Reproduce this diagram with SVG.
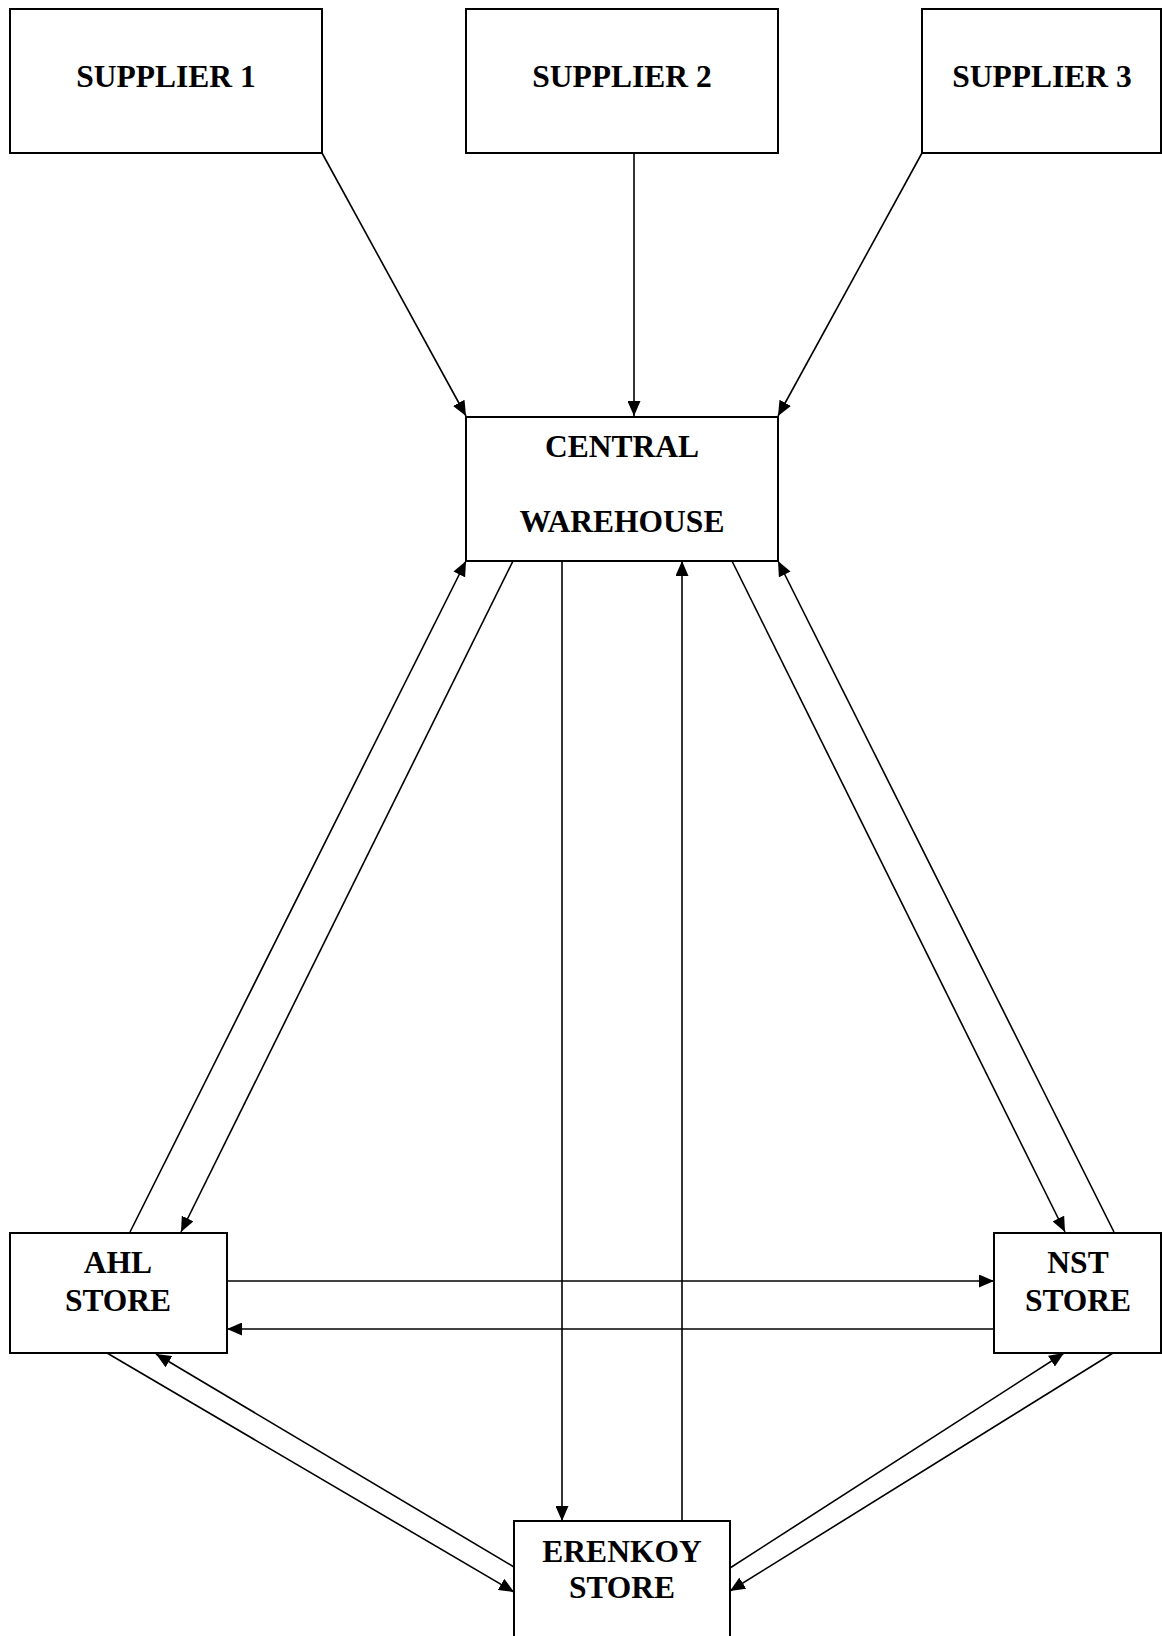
<svg xmlns="http://www.w3.org/2000/svg" width="1162" height="1636" viewBox="0 0 1162 1636">
<style>
.box{fill:#fff;stroke:#000;stroke-width:2}
.lbl{font-family:"Liberation Serif","Times New Roman",serif;font-weight:bold;font-size:31.5px;fill:#000;text-anchor:middle}
.c{stroke:#000;stroke-width:1.6;fill:none}
.a{marker-end:url(#ah)}
</style>
<defs>
<marker id="ah" markerUnits="userSpaceOnUse" markerWidth="15" markerHeight="13" refX="15" refY="6.5" orient="auto">
<path d="M0,0 L15,6.5 L0,13 z" fill="#000"/>
</marker>
</defs>
<g id="connectors">
<line class="c a" x1="322" y1="153" x2="466" y2="416"/>
<line class="c a" x1="634" y1="153" x2="634" y2="416"/>
<line class="c a" x1="922" y1="153" x2="778" y2="416"/>
<line class="c a" x1="130" y1="1232" x2="466" y2="561"/>
<line class="c a" x1="513" y1="561" x2="181" y2="1232"/>
<line class="c a" x1="562" y1="561" x2="562" y2="1521"/>
<line class="c a" x1="682" y1="1521" x2="682" y2="561"/>
<line class="c a" x1="732" y1="561" x2="1065" y2="1232"/>
<line class="c a" x1="1114" y1="1232" x2="778" y2="561"/>
<line class="c a" x1="227" y1="1281" x2="994" y2="1281"/>
<line class="c a" x1="994" y1="1329" x2="227" y2="1329"/>
<line class="c a" x1="107" y1="1353" x2="514" y2="1592"/>
<line class="c a" x1="514" y1="1567" x2="156" y2="1354"/>
<line class="c a" x1="730" y1="1568" x2="1064" y2="1353"/>
<line class="c a" x1="1113" y1="1353" x2="730" y2="1591"/>
</g>
<g id="supplier1"><rect class="box" x="10" y="9" width="312" height="144"/><text class="lbl" x="166" y="87">SUPPLIER 1</text></g>
<g id="supplier2"><rect class="box" x="466" y="9" width="312" height="144"/><text class="lbl" x="622" y="87">SUPPLIER 2</text></g>
<g id="supplier3"><rect class="box" x="922" y="9" width="239" height="144"/><text class="lbl" x="1042" y="87">SUPPLIER 3</text></g>
<g id="central"><rect class="box" x="466" y="417" width="312" height="144"/><text class="lbl" x="622" y="457">CENTRAL</text><text class="lbl" x="622" y="532">WAREHOUSE</text></g>
<g id="ahl"><rect class="box" x="10" y="1233" width="217" height="120"/><text class="lbl" x="118" y="1273">AHL</text><text class="lbl" x="118" y="1311">STORE</text></g>
<g id="nst"><rect class="box" x="994" y="1233" width="167" height="120"/><text class="lbl" x="1078" y="1273">NST</text><text class="lbl" x="1078" y="1311">STORE</text></g>
<g id="erenkoy"><rect class="box" x="514" y="1521" width="216" height="130"/><text class="lbl" x="622" y="1562">ERENKOY</text><text class="lbl" x="622" y="1598">STORE</text></g>
</svg>
